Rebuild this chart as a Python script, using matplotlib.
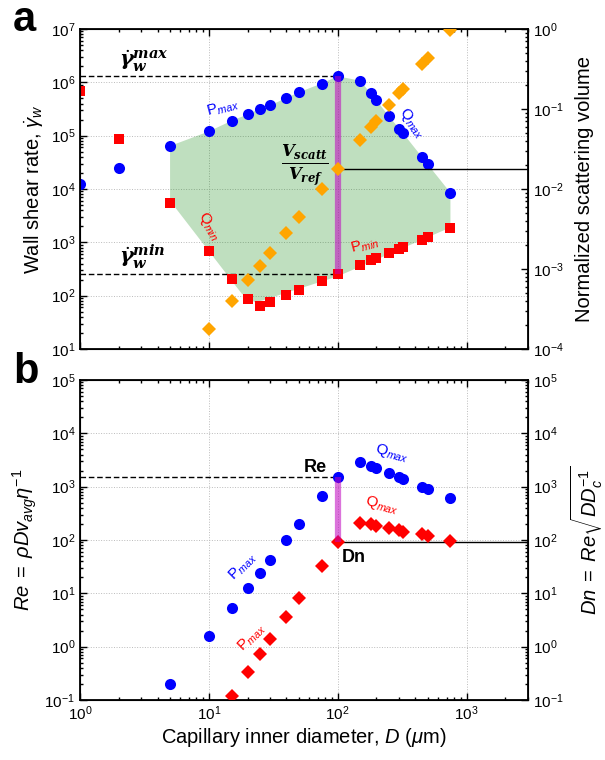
import matplotlib
matplotlib.use('Agg')
import matplotlib.pyplot as plt
from matplotlib.ticker import LogLocator, NullFormatter
import numpy as np

plt.rcParams['font.family'] = ['Liberation Sans', 'DejaVu Sans']
plt.rcParams['mathtext.fontset'] = 'custom'
plt.rcParams['mathtext.rm'] = 'Liberation Sans'
plt.rcParams['mathtext.it'] = 'Liberation Sans:italic'
plt.rcParams['mathtext.bf'] = 'Liberation Sans:bold'

# ---- panel a: wall shear rate vs capillary diameter ----
d_shear = [1, 2, 5, 10, 15, 20, 25, 30, 40, 50, 75, 100,
           150, 180, 200, 250, 300, 320, 450, 500, 750]
shear_max = [1.25e4, 2.5e4, 6.4e4, 1.2e5, 1.9e5, 2.5e5, 3.2e5, 3.7e5, 5.1e5, 6.5e5, 9.5e5, 1.3e6,
             1.07e6, 6.2e5, 4.6e5, 2.3e5, 1.36e5, 1.13e5, 4.0e4, 2.9e4, 8.5e3]
shear_min = [6.9e5, 8.5e4, 5.5e3, 680, 205, 87, 63, 75, 103, 125, 190, 255,
             380, 470, 500, 630, 750, 810, 1120, 1250, 1850]

d_scatt = [10, 15, 20, 25, 30, 40, 50, 75, 100, 150, 180, 200, 250, 300, 320, 450, 500, 750]
scatt_vol = [1.78e-4, 4.0e-4, 7.2e-4, 1.1e-3, 1.6e-3, 2.8e-3, 4.5e-3, 1.0e-2, 1.8e-2,
             4.1e-2, 6.0e-2, 7.1e-2, 0.112, 0.16, 0.18, 0.37, 0.44, 0.98]

# lower edge of the shaded window (right to left)
win_low_d = [750, 100, 23, 18, 5]
win_low_rate = [1.9e3, 230, 74, 109, 6.0e3]

d_ref = 100

# ---- panel b: Re and Dn ----
d_re = [5, 10, 15, 20, 25, 30, 40, 50, 75, 100, 150, 180, 200, 250, 300, 320, 450, 500, 750]
re_vals = [0.2, 1.58, 5.4, 12.4, 24, 42, 100, 196, 668, 1550,
           2950, 2470, 2270, 1780, 1550, 1390, 1000, 904, 600]
d_dn = [15, 20, 25, 30, 40, 50, 75, 100, 150, 180, 200, 250, 300, 320, 450, 500, 750]
dn_vals = [0.12, 0.33, 0.72, 1.39, 3.6, 8.2, 32, 93,
           210, 197, 183, 166, 155, 143, 129, 120, 94]

blue = '#0000ff'
red = '#ff0000'
orange = '#ffa500'
W, H = 605, 760


def style_axis(ax, ylim):
    ax.set_xscale('log')
    ax.set_yscale('log')
    ax.set_xlim(1, 3000)
    ax.set_ylim(*ylim)
    ax.xaxis.set_major_locator(LogLocator(base=10, numticks=20))
    ax.xaxis.set_minor_locator(LogLocator(base=10, subs=np.arange(2, 10), numticks=20))
    ax.yaxis.set_major_locator(LogLocator(base=10, numticks=20))
    ax.yaxis.set_minor_locator(LogLocator(base=10, subs=np.arange(2, 10), numticks=20))
    ax.xaxis.set_minor_formatter(NullFormatter())
    ax.yaxis.set_minor_formatter(NullFormatter())
    ax.tick_params(which='both', direction='in', top=True, labelsize=11, width=1)
    ax.tick_params(which='major', length=5)
    ax.tick_params(which='minor', length=2.5)
    for s in ax.spines.values():
        s.set_linewidth(1.3)


def style_right(axr, ylim):
    axr.set_yscale('log')
    axr.set_ylim(*ylim)
    axr.yaxis.set_major_locator(LogLocator(base=10, numticks=20))
    axr.yaxis.set_minor_locator(LogLocator(base=10, subs=np.arange(2, 10), numticks=20))
    axr.yaxis.set_minor_formatter(NullFormatter())
    axr.tick_params(which='both', direction='in', labelsize=11, width=1)
    axr.tick_params(which='major', length=5)
    axr.tick_params(which='minor', length=2.5)


fig = plt.figure(figsize=(W / 100, H / 100), dpi=100)
ax1 = fig.add_axes([80 / W, 1 - 349 / H, 448 / W, 320 / H])
ax2 = fig.add_axes([80 / W, 1 - 700 / H, 448 / W, 320 / H])

# ---------------- panel a ----------------
style_axis(ax1, (1e1, 1e7))
ax1.tick_params(labelbottom=False, right=False)
ax1.set_axisbelow(True)
ax1.grid(True, which='major', ls=':', color='#bbbbbb', lw=0.7)

i5 = d_shear.index(5)
win_d = d_shear[i5:] + win_low_d
win_rate = shear_max[i5:] + win_low_rate
ax1.fill(win_d, win_rate, color='green', alpha=0.25, lw=0, zorder=1)

ir = d_shear.index(d_ref)
gmax = shear_max[ir]
gmin = shear_min[ir]
ax1.plot([1, d_ref], [gmax, gmax], color='k', ls='--', lw=1, dashes=(4, 2), zorder=2)
ax1.plot([1, d_ref], [gmin, gmin], color='k', ls='--', lw=1, dashes=(4, 2), zorder=2)

ax1.plot(d_shear, shear_max, 'o', color=blue, ms=8, mew=0, zorder=3)
ax1.plot(d_shear, shear_min, 's', color=red, ms=7.5, mew=0, zorder=3)
ax1.plot([d_ref, d_ref], [gmin, gmax], color='m', alpha=0.55, lw=4.5,
         solid_capstyle='butt', zorder=4)

ax1.text(2, 1.45e6, r'$\dot{\mathbfit{\gamma}}_{\mathbfit{w}}^{\mathbfit{max}}$',
         math_fontfamily='dejavuserif', fontsize=15, ha='left', va='bottom')
ax1.text(2, 290, r'$\dot{\mathbfit{\gamma}}_{\mathbfit{w}}^{\mathbfit{min}}$',
         math_fontfamily='dejavuserif', fontsize=15, ha='left', va='bottom')
ax1.text(55, 2.8e4, r'$\frac{\mathbfit{V}_{\mathbfit{scatt}}}{\mathbfit{V}_{\mathbfit{ref}}}$',
         math_fontfamily='dejavuserif', fontsize=17, ha='center', va='center')

ax1.text(12.8, 3.3e5, r'P$_{max}$', color=blue, fontsize=11, rotation=15, ha='center', va='center')
ax1.text(378, 1.7e5, r'Q$_{max}$', color=blue, fontsize=11, rotation=-55, ha='center', va='center')
ax1.text(10.1, 2.0e3, r'Q$_{min}$', color=red, fontsize=11, rotation=-60, ha='center', va='center')
ax1.text(163, 870, r'P$_{min}$', color=red, fontsize=11, rotation=15, ha='center', va='center')

ax1.set_ylabel(r'Wall shear rate, $\dot{\gamma}_w$', fontsize=14.5, labelpad=4)

axr = ax1.twinx()
style_right(axr, (1e-4, 1))
js = d_scatt.index(d_ref)
axr.plot([d_ref, 3000], [scatt_vol[js], scatt_vol[js]], color='k', lw=1, zorder=2)
axr.plot(d_scatt, scatt_vol, 'D', color=orange, ms=7, mew=0, zorder=3)
axr.set_ylabel('Normalized scattering volume', fontsize=14.5, labelpad=8)

# ---------------- panel b ----------------
style_axis(ax2, (1e-1, 1e5))
ax2.tick_params(right=False)
ax2.set_axisbelow(True)
ax2.grid(True, which='major', ls=':', color='#bbbbbb', lw=0.7)

jr = d_re.index(d_ref)
jd = d_dn.index(d_ref)
ax2.plot([1, d_ref], [re_vals[jr], re_vals[jr]], color='k', ls='--', lw=1, dashes=(4, 2), zorder=2)
ax2.plot([d_ref, 3000], [dn_vals[jd], dn_vals[jd]], color='k', lw=1, zorder=2)
ax2.plot(d_re, re_vals, 'o', color=blue, ms=8, mew=0, zorder=3)
ax2.plot(d_dn, dn_vals, 'D', color=red, ms=7, mew=0, zorder=3)
ax2.plot([d_ref, d_ref], [dn_vals[jd], re_vals[jr]], color='m', alpha=0.55, lw=4.5,
         solid_capstyle='butt', zorder=4)

ax2.text(67, 2.3e3, 'Re', fontsize=13, fontweight='bold', ha='center', va='center')
ax2.text(134, 46, 'Dn', fontsize=13, fontweight='bold', ha='center', va='center')
ax2.text(265, 4.3e3, r'Q$_{max}$', color=blue, fontsize=11, rotation=-15, ha='center', va='center')
ax2.text(221, 455, r'Q$_{max}$', color=red, fontsize=11, rotation=-15, ha='center', va='center')
ax2.text(18.3, 32, r'P$_{max}$', color=blue, fontsize=11, rotation=45, ha='center', va='center')
ax2.text(21.4, 1.5, r'P$_{max}$', color=red, fontsize=11, rotation=45, ha='center', va='center')

ax2.set_ylabel(r'$Re\;=\;\rho D v_{avg}\eta^{-1}$', fontsize=14.5, labelpad=4)
ax2.set_xlabel(r'Capillary inner diameter, $D$ ($\mu$m)', fontsize=14.5, labelpad=2)

axr2 = ax2.twinx()
style_right(axr2, (1e-1, 1e5))
axr2.set_ylabel(r'$Dn\;=\;Re\sqrt{DD_c^{-1}}$', fontsize=14.5, labelpad=4)

fig.text(24 / W, 1 - 20 / H, 'a', fontsize=30, fontweight='bold', ha='center', va='center')
fig.text(26 / W, 1 - 372 / H, 'b', fontsize=30, fontweight='bold', ha='center', va='center')

fig.savefig('out.png', dpi=100)
